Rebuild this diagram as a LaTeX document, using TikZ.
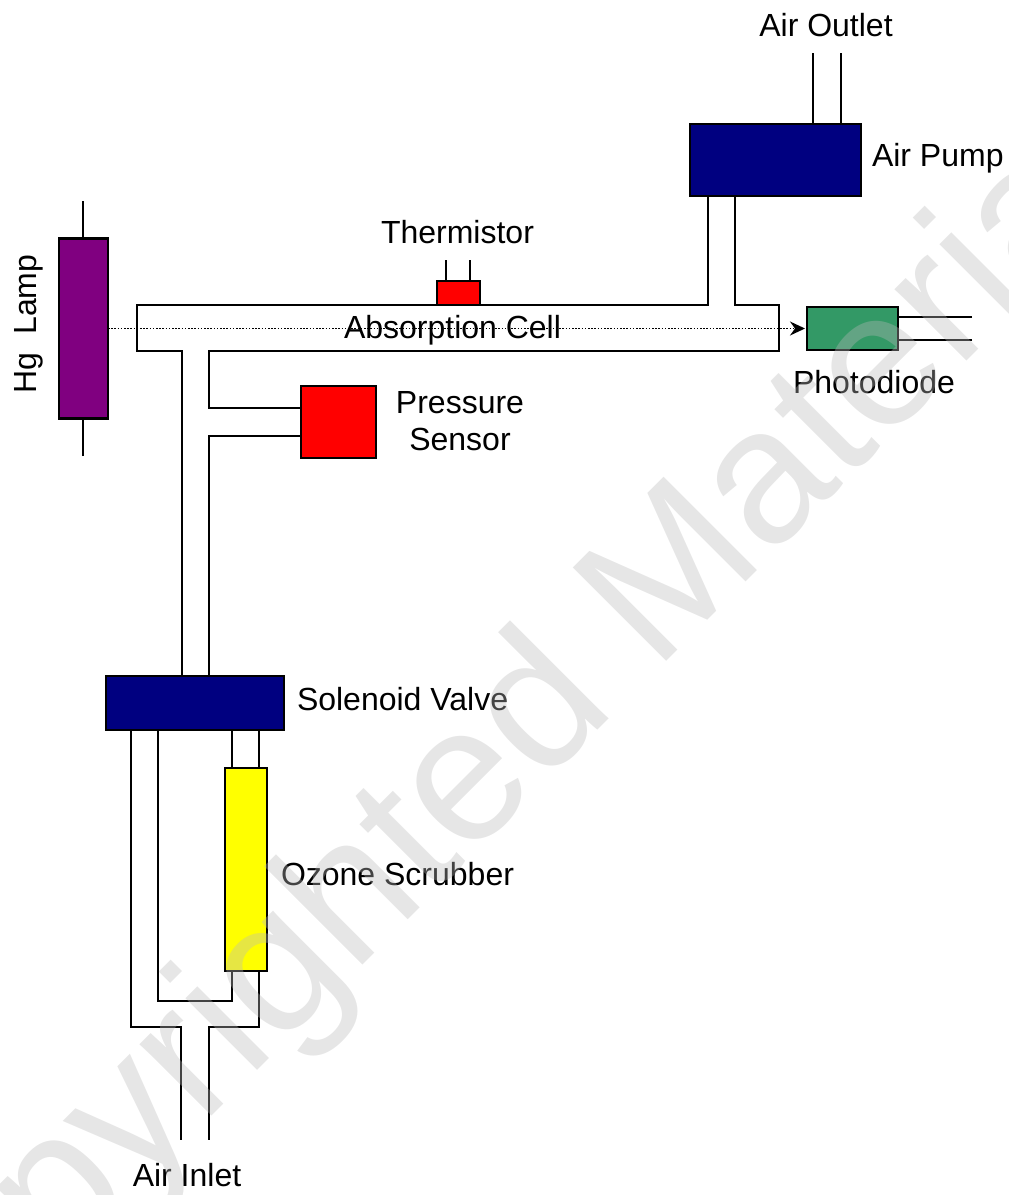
\documentclass[tikz,border=0pt]{standalone}
\usepackage{fontspec}
\setmainfont{Liberation Sans}
\usetikzlibrary{arrows.meta}
\definecolor{navyb}{RGB}{0,0,128}
\definecolor{lampc}{RGB}{128,0,128}
\definecolor{diodec}{RGB}{51,153,102}
\definecolor{redc}{RGB}{255,0,0}
\definecolor{yellowc}{RGB}{255,255,0}
\tikzset{
  x=1pt,y=-1pt,
  comp/.style={draw=black,line width=2.4pt,inner sep=0pt,outer sep=0pt},
  pipe/.style={draw=black,line width=2.4pt,line join=miter},
  wire/.style={draw=black,line width=1.8pt},
  beam/.style={draw=black,line width=1.8pt,dash pattern=on 1.6pt off 1.6pt,-{Stealth[length=15pt,width=14pt,inset=5pt]},shorten >=2pt},
  lab/.style={inner sep=0pt,outer sep=0pt,font=\fontsize{32}{36}\selectfont},
  stamp/.style={inner sep=0pt,outer sep=0pt,rotate=45,anchor=base west,text=black!27,opacity=0.36,font=\fontsize{192}{192}\selectfont}
}
\begin{document}
\begin{tikzpicture}
\useasboundingbox (0,0) rectangle (1009,1195);
% components
\node[comp,fill=lampc,minimum width=49pt,minimum height=180pt] (lamp) at (83.5,328.5) {};
\node[comp,fill=navyb,minimum width=171pt,minimum height=72pt] (pump) at (775.5,160) {};
\node[comp,fill=redc,minimum width=43pt,minimum height=24pt] (therm) at (458.5,293) {};
\node[comp,fill=redc,minimum width=75pt,minimum height=72pt] (sensor) at (338.5,422) {};
\node[comp,fill=diodec,minimum width=91pt,minimum height=43pt] (diode) at (852.5,328.5) {};
\node[comp,fill=navyb,minimum width=178pt,minimum height=54pt] (valve) at (195,703) {};
\node[comp,fill=yellowc,minimum width=42pt,minimum height=203pt] (scrub) at (246,869.5) {};
% free ends and bends
\coordinate (lampT) at (83,201);
\coordinate (lampB) at (83,456);
\coordinate (outL) at (813,53);
\coordinate (outR) at (841,53);
\coordinate (thL) at (446,260);
\coordinate (thR) at (470,260);
\coordinate (pdA) at (972,317);
\coordinate (pdB) at (972,340);
\coordinate (inL) at (181,1140);
\coordinate (inR) at (209,1140);
% wires
\draw[wire] (lampT) -- (lampT |- lamp.north);
\draw[wire] (lampB) -- (lampB |- lamp.south);
\draw[wire] (outL) -- (outL |- pump.north);
\draw[wire] (outR) -- (outR |- pump.north);
\draw[wire] (thL) -- (thL |- therm.north);
\draw[wire] (thR) -- (thR |- therm.north);
\draw[wire] (pdA) -- (pdA -| diode.east);
\draw[wire] (pdB) -- (pdB -| diode.east);
% absorption cell and pipes
\draw[pipe] (708,196) |- (137,305) |- (182,351) -- (182,676);
\draw[pipe] (735,196) |- (779,305) |- (209,351) |- (sensor.west |- 0,408);
\draw[pipe] (sensor.west |- 0,436) -| (209,676);
% lower pipes
\draw[pipe] (131,730) |- (inL |- 0,1027) -- (inL);
\draw[pipe] (158,730) |- (232,1001) -- (232,971);
\draw[pipe] (232,730) -- (232,768);
\draw[pipe] (259,730) -- (259,768);
\draw[pipe] (259,971) |- (inR |- 0,1027) -- (inR);
% light beam
\draw[beam] (lamp.east) -- (diode.west);
% labels
\node[lab,anchor=base] (tOut) at (826,36) {Air Outlet};
\node[lab,anchor=base west] (tPump) at (872,166) {Air Pump};
\node[lab,anchor=base] (tTherm) at (457.5,243) {Thermistor};
\node[lab,anchor=base,rotate=90] (tLamp) at (36,324) {Hg\ \ Lamp};
\node[lab,anchor=base] (tCell) at (452.5,338) {Absorption Cell};
\node[lab,anchor=base] (tPhoto) at (874,393) {Photodiode};
\node[lab,anchor=base] (tPress) at (460,413) {Pressure};
\node[lab,anchor=base] (tSens) at (460,450) {Sensor};
\node[lab,anchor=base west] (tValve) at (297,710) {Solenoid Valve};
\node[lab,anchor=base west] (tOzone) at (281,885) {Ozone Scrubber};
\node[lab,anchor=base] (tIn) at (187,1186) {Air Inlet};
% watermark
\begin{scope}
\clip (0,0) rectangle (1009,1195);
\node[stamp] (wm) at (-114,1442) {Copyrighted Material};
\end{scope}
\end{tikzpicture}
\end{document}
